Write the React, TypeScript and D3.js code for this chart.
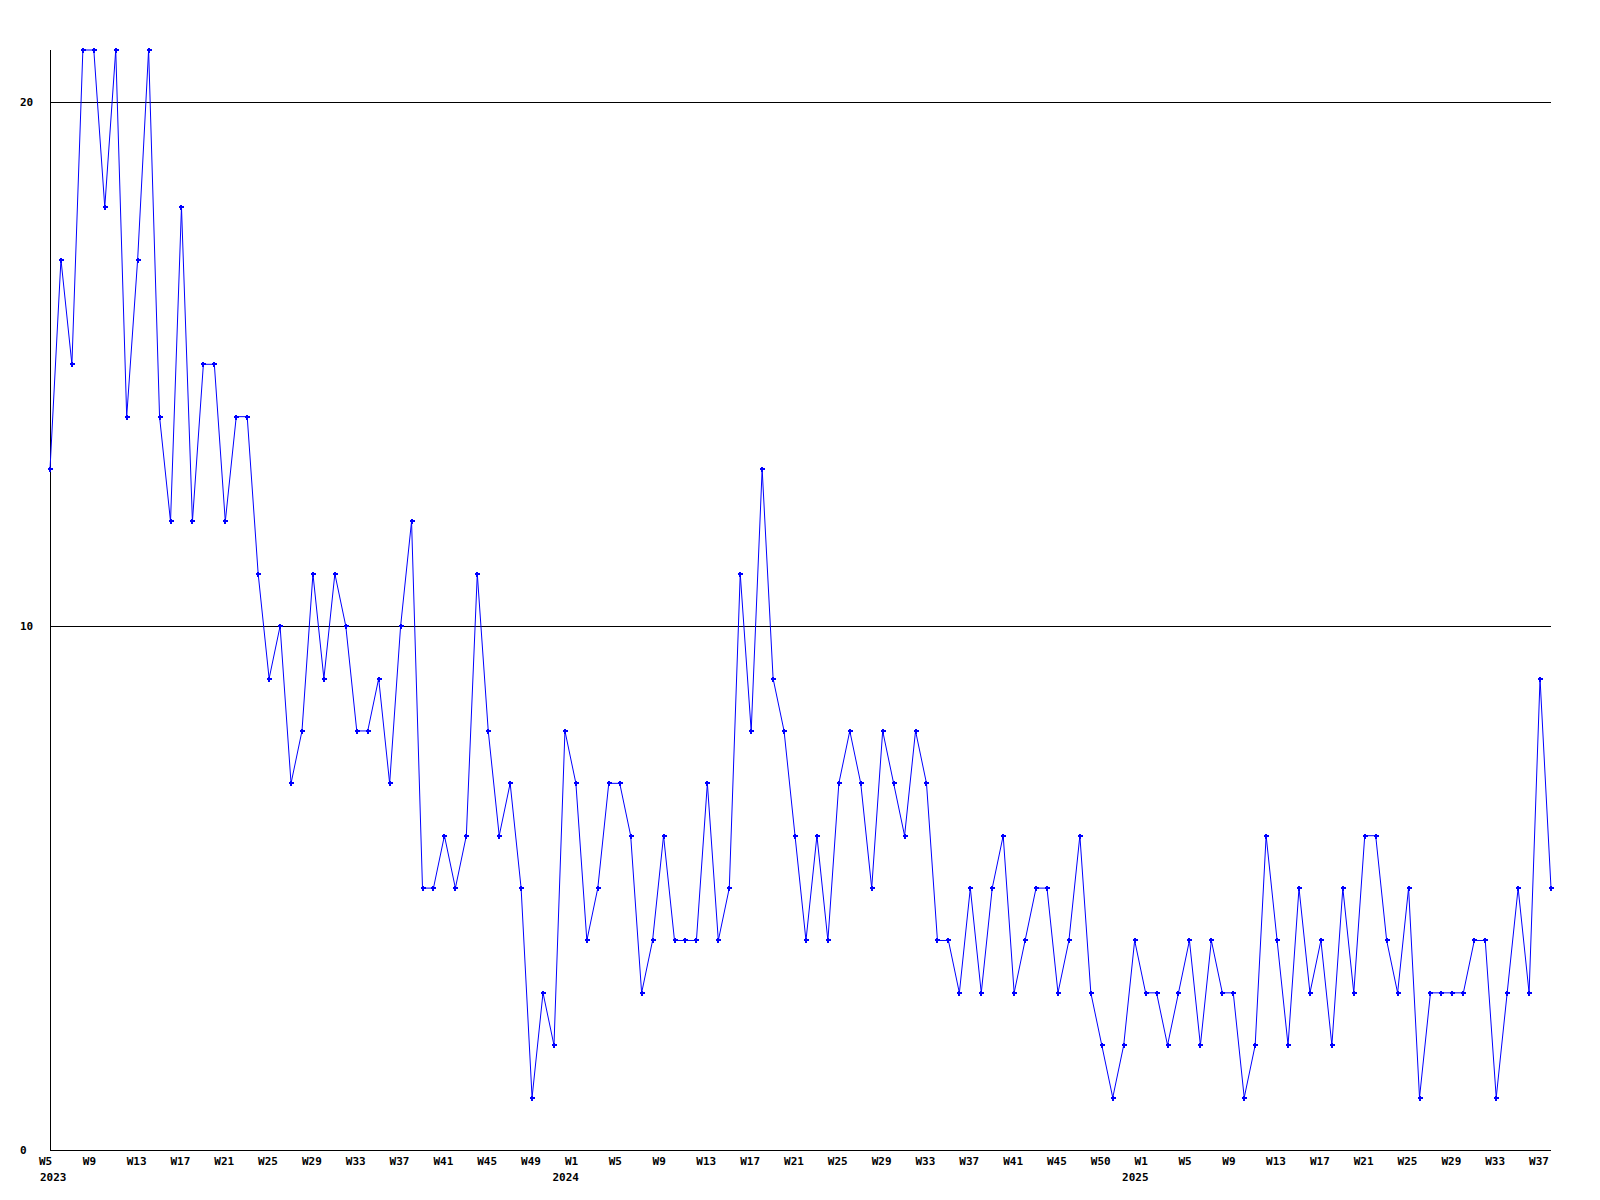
import React from "react";
import * as d3 from "d3";

// Weekly values, 2023 W5 … 2025 W38
const values: number[] = [
  13, 17, 15, 21, 21, 18, 21, 14, 17, 21, 14, 12, 18, 12, 15, 15, 12, 14, 14, 11,
  9, 10, 7, 8, 11, 9, 11, 10, 8, 8, 9, 7, 10, 12, 5, 5, 6, 5, 6, 11,
  8, 6, 7, 5, 1, 3, 2, 8, 7, 4, 5, 7, 7, 6, 3, 4, 6, 4, 4, 4,
  7, 4, 5, 11, 8, 13, 9, 8, 6, 4, 6, 4, 7, 8, 7, 5, 8, 7, 6, 8,
  7, 4, 4, 3, 5, 3, 5, 6, 3, 4, 5, 5, 3, 4, 6, 3, 2, 1, 2, 4,
  3, 3, 2, 3, 4, 2, 4, 3, 3, 1, 2, 6, 4, 2, 5, 3, 4, 2, 5, 3,
  6, 6, 4, 3, 5, 1, 3, 3, 3, 3, 4, 4, 1, 3, 5, 3, 9, 5,
];

// Week tick labels, one every 4 points
const weekLabels: string[] = [
  "W5", "W9", "W13", "W17", "W21", "W25", "W29", "W33", "W37", "W41", "W45", "W49",
  "W1", "W5", "W9", "W13", "W17", "W21", "W25", "W29", "W33", "W37", "W41", "W45", "W50",
  "W1", "W5", "W9", "W13", "W17", "W21", "W25", "W29", "W33", "W37",
];
const weekLabelStep = 4;

const years: string[] = ["2023", "2024", "2025"];
const yearPointIndex: number[] = [0, 48, 100];

const yTicks: number[] = [0, 10, 20];
const yMax = 21;

const W = 1600;
const H = 1200;
const left = 50;
const right = 1551;
const top = 50;
const bottom = 1150;
const FONT = "'DejaVu Sans Mono', 'Liberation Mono', monospace";

export default function App() {
  const x = d3.scaleLinear().domain([0, values.length - 1]).range([left, right]);
  const y = d3.scaleLinear().domain([0, yMax]).range([bottom, top]);
  const line = d3
    .line<number>()
    .x((_, i) => x(i))
    .y((d) => y(d));

  const crisp = (v: number) => Math.round(v) + 0.5;

  return (
    <svg
      width={W}
      height={H}
      style={{ position: "absolute", left: 0, top: 0, background: "#fff" }}
      fontFamily={FONT}
    >
      <rect x={0} y={0} width={W} height={H} fill="#fff" />
      {/* grid lines */}
      {yTicks
        .filter((t) => t > 0)
        .map((t) => (
          <line
            key={"g" + t}
            x1={left}
            x2={right}
            y1={crisp(y(t))}
            y2={crisp(y(t))}
            stroke="#000"
            strokeWidth={1}
            shapeRendering="crispEdges"
          />
        ))}
      {/* axes */}
      <line
        x1={crisp(left)}
        x2={crisp(left)}
        y1={top}
        y2={crisp(bottom)}
        stroke="#000"
        shapeRendering="crispEdges"
      />
      <line
        x1={left}
        x2={right}
        y1={crisp(bottom)}
        y2={crisp(bottom)}
        stroke="#000"
        shapeRendering="crispEdges"
      />
      {/* y labels */}
      {yTicks.map((t) => (
        <text
          key={"y" + t}
          x={20}
          y={y(t)}
          dy="0.36em"
          fontSize={11}
          fontWeight="bold"
          fill="#000"
        >
          {t}
        </text>
      ))}
      {/* x week labels */}
      {weekLabels.map((lab, k) => (
        <text
          key={"w" + k}
          x={x(k * weekLabelStep) - 11}
          y={1165}
          fontSize={11}
          fontWeight="bold"
          fill="#000"
        >
          {lab}
        </text>
      ))}
      {/* year labels */}
      {years.map((yr, k) => {
        const cx = x(yearPointIndex[k]) - 10;
        const start = Math.max(cx - 13.5, left - 10);
        return (
          <text
            key={"yr" + yr}
            x={start}
            y={1181}
            fontSize={11}
            fontWeight="bold"
            fill="#000"
          >
            {yr}
          </text>
        );
      })}
      {/* data line */}
      <path d={line(values) || ""} fill="none" stroke="#0000ff" strokeWidth={1} />
      {/* markers */}
      {values.map((v, i) => {
        const px = x(i);
        const py = y(v);
        return (
          <g key={"m" + i} fill="#0000ff" stroke="none" shapeRendering="crispEdges">
            <rect x={Math.round(px) - 2} y={Math.round(py) - 1} width={5} height={2} />
            <rect x={Math.round(px) - 1} y={Math.round(py) - 2} width={2} height={5} />
          </g>
        );
      })}
    </svg>
  );
}
